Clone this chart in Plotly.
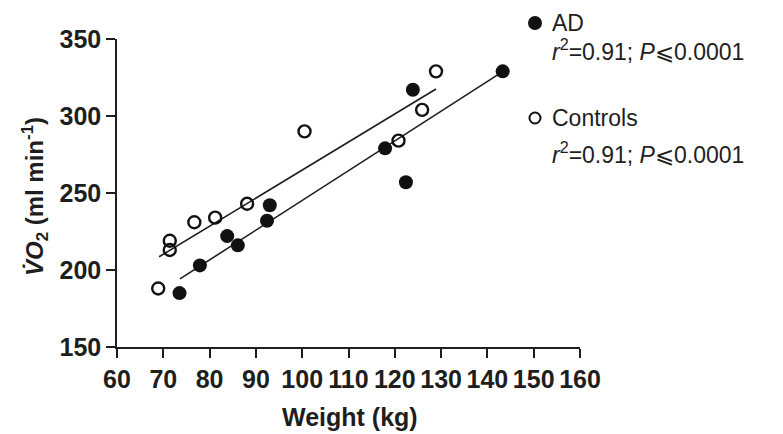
import plotly.graph_objects as go

# Data
ad_weight = [73.5, 77.9, 83.8, 86.1, 92.4, 93.0, 117.9, 122.4, 123.9, 143.3]
ad_vo2 = [185, 203, 222, 216, 232, 242, 279, 257, 317, 329]
ctrl_weight = [68.9, 71.4, 71.4, 76.7, 81.2, 88.1, 100.5, 120.8, 125.9, 128.9]
ctrl_vo2 = [188, 219, 213, 231, 234, 243, 290, 284, 304, 329]

# regression line endpoints
ad_fit_x = [73.6, 143.3]
ad_fit_y = [194.2, 328.8]
ctrl_fit_x = [69.1, 128.9]
ctrl_fit_y = [208.6, 317.5]

x_ticks = [60, 70, 80, 90, 100, 110, 120, 130, 140, 150, 160]
y_ticks = [150, 200, 250, 300, 350]

FONT = "Liberation Sans, Arial, sans-serif"
INK = "#1e1e1e"

fig = go.Figure()
fig.add_trace(go.Scatter(x=ad_fit_x, y=ad_fit_y, mode="lines",
                         line=dict(color=INK, width=1.6), showlegend=False))
fig.add_trace(go.Scatter(x=ctrl_fit_x, y=ctrl_fit_y, mode="lines",
                         line=dict(color=INK, width=1.6), showlegend=False))
fig.add_trace(go.Scatter(x=ad_weight, y=ad_vo2, mode="markers", name="AD",
                         marker=dict(symbol="circle", size=14, color="#111111",
                                     line=dict(width=0)), showlegend=False))
fig.add_trace(go.Scatter(x=ctrl_weight, y=ctrl_vo2, mode="markers", name="Controls",
                         marker=dict(symbol="circle-open", size=12, color="#111111",
                                     line=dict(width=2.4)), showlegend=False))

# the page body has an 8px margin, so work in screen pixels minus 8
OFF = 8
L, R, T, B = 117 - OFF, 580 - OFF, 39 - OFF, 347 - OFF
W, H = 783 - OFF, 434 - OFF

def px(xp):
    return (xp - OFF - L) / (R - L)

def py(yp):
    return (B - (yp - OFF)) / (B - T)

annotations = []
legend_items = [
    ("AD", 23, 50, True),
    ("Controls", 118, 153, False),
]
shapes = []
for label, yl, yr, filled in legend_items:
    annotations.append(dict(xref="paper", yref="paper", x=px(550), y=py(yl),
                            xanchor="left", yanchor="middle", showarrow=False,
                            text=label, font=dict(family=FONT, size=23, color=INK)))
    annotations.append(dict(xref="paper", yref="paper", x=px(550), y=py(yr),
                            xanchor="left", yanchor="middle", showarrow=False,
                            text="<i>r</i><sup>2</sup>=0.91; <i>P</i>\u2a7d0.0001",
                            font=dict(family=FONT, size=23, color=INK)))
    cx, cy = 535, yl
    rr = 7 if filled else 5.5
    shapes.append(dict(type="circle", xref="paper", yref="paper",
                       x0=px(cx - rr), x1=px(cx + rr), y0=py(cy + rr), y1=py(cy - rr),
                       fillcolor="#111111" if filled else "rgba(0,0,0,0)",
                       line=dict(color="#111111", width=0 if filled else 2)))

# axis titles
annotations.append(dict(xref="paper", yref="paper", x=px(350), y=py(417),
                        xanchor="center", yanchor="middle", showarrow=False,
                        text="<b>Weight (kg)</b>",
                        font=dict(family=FONT, size=25, color=INK)))
annotations.append(dict(xref="paper", yref="paper", x=px(35), y=py(197),
                        xanchor="center", yanchor="middle", showarrow=False,
                        textangle=-90,
                        text="<b><i>V\u0307O</i><sub>2</sub> (ml min<sup>-1</sup>)</b>",
                        font=dict(family=FONT, size=24, color=INK)))

fig.update_layout(
    width=W, height=H,
    margin=dict(l=L, r=W - R, t=T, b=H - B),
    paper_bgcolor="white", plot_bgcolor="white",
    showlegend=False,
    annotations=annotations,
    shapes=shapes,
    xaxis=dict(range=[60, 160], tickvals=x_ticks, ticktext=[str(v) for v in x_ticks],
               automargin=False,
               showgrid=False, zeroline=False, showline=True, linecolor=INK,
               linewidth=1.5, ticks="outside", ticklen=9, tickwidth=1.5, tickcolor=INK,
               tickfont=dict(family=FONT, size=25, color=INK, weight="bold")),
    yaxis=dict(range=[150, 350], tickvals=y_ticks, ticktext=[str(v) for v in y_ticks],
               automargin=False,
               showgrid=False, zeroline=False, showline=True, linecolor=INK,
               linewidth=1.5, ticks="outside", ticklen=9, tickwidth=1.5, tickcolor=INK,
               tickfont=dict(family=FONT, size=25, color=INK, weight="bold")),
)

fig.write_html("out.html")
